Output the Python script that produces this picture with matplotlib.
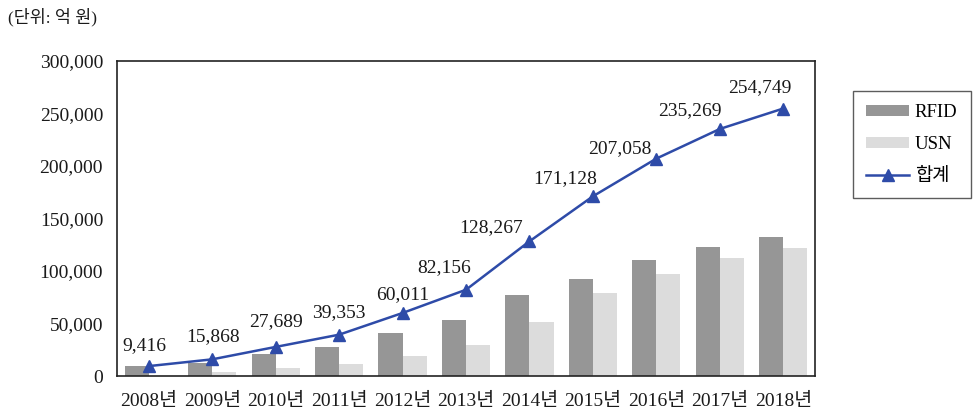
import matplotlib
matplotlib.use('Agg')
import matplotlib.pyplot as plt
import numpy as np
from matplotlib.ticker import FuncFormatter

plt.rcParams['font.family'] = ['Liberation Serif', 'Noto Sans CJK KR']

years = ['2008년', '2009년', '2010년', '2011년', '2012년', '2013년',
         '2014년', '2015년', '2016년', '2017년', '2018년']
rfid = [9300, 12000, 20500, 28000, 40500, 53000, 77000, 92000, 110200, 123000, 132500]
usn = [116, 3868, 7189, 11353, 19511, 29156, 51267, 79128, 96858, 112269, 122249]
total = [9416, 15868, 27689, 39353, 60011, 82156, 128267, 171128, 207058, 235269, 254749]
yticks = [0, 50000, 100000, 150000, 200000, 250000, 300000]

# label offsets in pixels (dx, dy) relative to each marker
label_off = [(-4, 21), (1, 23), (0, 25), (0, 22), (0, 18), (-22, 22),
             (-38, 14), (-28, 18), (-37, 10), (-30, 18), (-23, 21)]

fig = plt.figure(figsize=(9.76, 4.11), dpi=100)
ax = fig.add_axes([117 / 976, 1 - 376 / 411, (815 - 117) / 976, (376 - 61) / 411])

x = np.arange(len(years))
w = 0.38
b1 = ax.bar(x - w / 2, rfid, w, color='#969696', label='RFID', zorder=2)
b2 = ax.bar(x + w / 2, usn, w, color='#dcdcdc', label='USN', zorder=2)
ln, = ax.plot(x, total, color='#2e4ba8', lw=1.8, marker='^', ms=9,
              label='합계', zorder=3)

for i, v in enumerate(total):
    dx, dy = label_off[i]
    ax.annotate('{:,}'.format(v), (x[i], v), xytext=(dx, dy),
                textcoords='offset pixels', ha='center', va='center',
                fontsize=14, color='#1a1a1a')

ax.set_xlim(-0.5, len(years) - 0.5)
ax.set_ylim(0, 300000)
ax.set_xticks(x)
ax.set_xticklabels(years)
ax.set_yticks(yticks)
ax.yaxis.set_major_formatter(FuncFormatter(lambda v, p: '{:,}'.format(int(v))))
ax.tick_params(length=0, labelsize=14, colors='#1a1a1a')
ax.tick_params(axis='y', pad=10)
ax.tick_params(axis='x', pad=12)
for s in ax.spines.values():
    s.set_linewidth(1.2)
    s.set_color('#222222')

fig.text(8 / 976, 1 - 17 / 411, '(단위: 억 원)', fontsize=12.5,
         va='center', ha='left', color='#1a1a1a')

leg = ax.legend([b1, b2, ln], ['RFID', 'USN', '합계'],
                loc='upper left', bbox_to_anchor=(853 / 976, 1 - 91 / 411),
                bbox_transform=fig.transFigure, fontsize=13.5,
                frameon=True, fancybox=False, edgecolor='#333333',
                handlelength=2.3, handleheight=0.6, labelspacing=0.8,
                borderpad=0.7, handletextpad=0.3, borderaxespad=0)
leg.get_frame().set_linewidth(1.0)

fig.savefig('out.png', dpi=100)
